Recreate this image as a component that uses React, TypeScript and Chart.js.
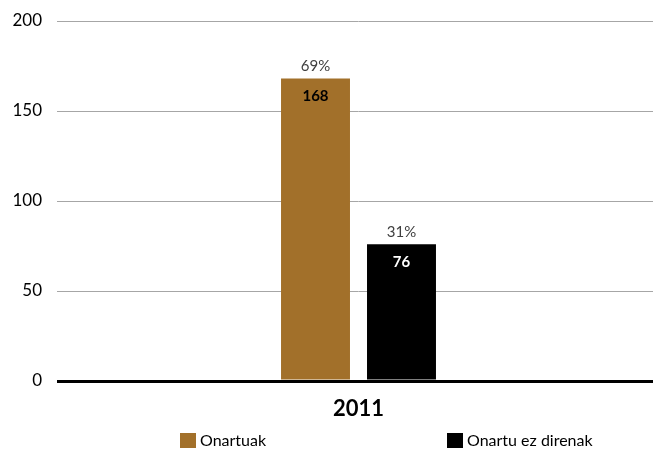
import React, { useEffect, useRef } from "react";
import { Chart, registerables } from "chart.js";

Chart.register(...registerables);

const categories = ["2011"];
const seriesNames = ["Onartuak", "Onartu ez direnak"];
const seriesValues = [[168], [76]];
const percentLabels = ["69%", "31%"];
const seriesColors = ["#A2702A", "#000000"];
const valueLabelColors = ["#000000", "#FFFFFF"];
const yTicks = [0, 50, 100, 150, 200];

const FONT = "Lato, 'Open Sans', sans-serif";

const labelPlugin = {
  id: "barLabels",
  afterDatasetsDraw(chart: any) {
    const ctx = chart.ctx;
    ctx.save();
    chart.data.datasets.forEach((ds: any, di: number) => {
      const meta = chart.getDatasetMeta(di);
      meta.data.forEach((bar: any, i: number) => {
        const v = ds.data[i];
        ctx.textAlign = "center";
        ctx.textBaseline = "middle";
        ctx.font = `15px ${FONT}`;
        ctx.fillStyle = "#404040";
        ctx.fillText(percentLabels[di], bar.x, bar.y - 12);
        ctx.font = `bold 15px ${FONT}`;
        ctx.fillStyle = valueLabelColors[di];
        ctx.fillText(String(v), bar.x, bar.y + 18);
      });
    });
    ctx.restore();
  },
};

const legendPlugin = {
  id: "customLegend",
  afterDraw(chart: any) {
    const ctx = chart.ctx;
    const xs = [180, 447];
    const y = 440;
    ctx.save();
    chart.data.datasets.forEach((ds: any, di: number) => {
      const x = xs[di];
      ctx.fillStyle = ds.backgroundColor;
      ctx.fillRect(x, y - 7, 16, 15);
      ctx.font = `16px ${FONT}`;
      ctx.fillStyle = "#000000";
      ctx.textAlign = "left";
      ctx.textBaseline = "middle";
      ctx.fillText(ds.label, x + 20, y + 1);
    });
    ctx.restore();
  },
};

export default function App() {
  const ref = useRef<HTMLCanvasElement | null>(null);
  useEffect(() => {
    if (!ref.current) return;
    const chart = new Chart(ref.current, {
      type: "bar",
      data: {
        labels: categories,
        datasets: seriesNames.map((name, i) => ({
          label: name,
          data: seriesValues[i],
          backgroundColor: seriesColors[i],
          borderWidth: 0,
          barPercentage: 0.802,
          categoryPercentage: 0.2852,
        })),
      },
      options: {
        animation: false,
        responsive: false,
        maintainAspectRatio: false,
        layout: { padding: { top: 21, bottom: 24, left: 0, right: 0 } },
        plugins: {
          legend: { display: false },
          tooltip: { enabled: false },
        },
        scales: {
          x: {
            grid: { display: false, drawTicks: false },
            border: { display: false },
            ticks: {
              padding: 15,
              color: "#000000",
              font: { family: FONT, size: 22, weight: "bold" },
            },
            afterFit: (s: any) => {
              s.height = 45;
              s.paddingLeft = 0;
              s.paddingRight = 0;
            },
          },
          y: {
            min: 0,
            max: 200,
            afterBuildTicks: (s: any) => {
              s.ticks = yTicks.map((v) => ({ value: v }));
            },
            grid: {
              drawTicks: false,
              color: (c: any) => (c.tick && c.tick.value === 0 ? "#000000" : "#A6A6A6"),
              lineWidth: (c: any) => (c.tick && c.tick.value === 0 ? 3 : 1),
            },
            border: { display: false },
            ticks: {
              padding: 15,
              color: "#000000",
              font: { family: FONT, size: 17 },
            },
            afterFit: (s: any) => {
              s.width = 57;
              s.paddingTop = 0;
              s.paddingBottom = 0;
            },
          },
        },
      },
      plugins: [labelPlugin, legendPlugin],
    });
    return () => chart.destroy();
  }, []);
  return (
    <div style={{ width: 653, height: 450, overflow: "hidden", background: "#fff" }}>
      <style>{`html,body{margin:0;padding:0;overflow:hidden;}`}</style>
      <canvas ref={ref} width={660} height={450} style={{ display: "block" }} />
    </div>
  );
}
